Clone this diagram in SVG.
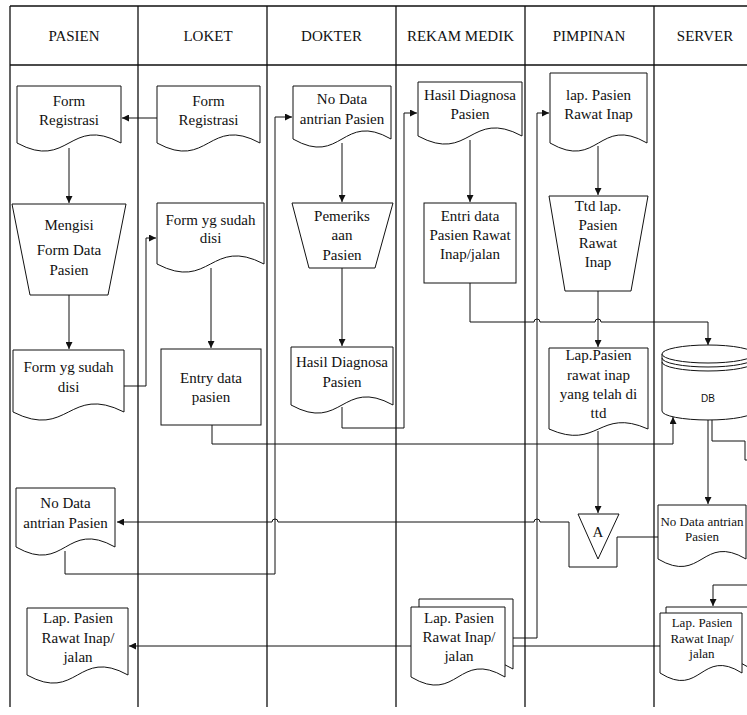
<svg xmlns="http://www.w3.org/2000/svg" width="747" height="715" viewBox="0 0 747 715">
  <style>
    .lane { fill: none; stroke: #111; stroke-width: 1.3; }
    .shape { fill: #fff; stroke: #111; stroke-width: 1; }
    .conn { fill: none; stroke: #111; stroke-width: 1; }
    .arr { marker-end: url(#arrow); }
    text { font-family: "Liberation Serif", "Times New Roman", serif; font-size: 15px; fill: #111; text-anchor: middle; }
    .sm { font-size: 13px; }
    .sans { font-family: "Liberation Sans", Arial, sans-serif; font-size: 10px; }
  </style>
  <defs>
    <marker id="arrow" viewBox="0 0 10 10" refX="10" refY="5" markerWidth="8" markerHeight="7" markerUnits="userSpaceOnUse" orient="auto">
      <path d="M0,0 L10,5 L0,10 z" fill="#111"/>
    </marker>
  </defs>
  <rect width="747" height="715" fill="#fff"/>

  <!-- swimlane frame -->
  <g id="lanes">
    <path class="lane" d="M10,6 H747 M10,65 H747"/>
    <path class="lane" d="M10,6 V707 M138,6 V707 M267,6 V707 M396,6 V707 M525,6 V707 M654,6 V707"/>
    <text x="74" y="41">PASIEN</text>
    <text x="208" y="41">LOKET</text>
    <text x="331.5" y="41">DOKTER</text>
    <text x="460.5" y="41">REKAM MEDIK</text>
    <text x="589" y="41">PIMPINAN</text>
    <text x="705" y="41">SERVER</text>
  </g>

  <!-- connectors -->
  <g id="connectors">
    <path class="conn arr" d="M157,118 H122"/>
    <path class="conn arr" d="M69,148 V203"/>
    <path class="conn arr" d="M69,295 V349"/>
    <path class="conn arr" d="M121,386 H146 V238 H156"/>
    <path class="conn arr" d="M211,268 V348"/>
    <path class="conn arr" d="M212,425 V444 H673 V417"/>
    <path class="conn arr" d="M65,551 V574 H275 V117 H292"/>
    <path class="conn arr" d="M342,143 V202"/>
    <path class="conn arr" d="M342,268 V346"/>
    <path class="conn arr" d="M342,407 V428 H404 V113 H417"/>
    <path class="conn arr" d="M470,140 V202"/>
    <path class="conn arr" d="M470,283 V322 H534 A3,3 0 0 1 540,322 H595 A3,3 0 0 1 601,322 H708 V345"/>
    <path class="conn arr" d="M598,146 V195"/>
    <path class="conn arr" d="M598,291 V347"/>
    <path class="conn arr" d="M598,431 V513"/>
    <path class="conn arr" d="M708,420 V504"/>
    <path class="conn arr" d="M712,420 V441 H745 V460 H770 V585 H713 V606"/>
    <path class="conn arr" d="M658,537 H617 V567 H569 V522 H540 A3,3 0 0 0 534,522 H278 A3,3 0 0 0 272,522 H117"/>
    <path class="conn arr" d="M660,646 H506"/>
    <path class="conn arr" d="M411,646 H129"/>
    <path class="conn arr" d="M513,638 H537 V113 H549"/>
  </g>

  <!-- PASIEN -->
  <g id="pasien-form-registrasi">
    <path class="shape" d="M17,86 H121 V143 C69,115 69,171 17,143 Z"/>
    <text x="69" y="106">Form</text>
    <text x="69" y="125">Registrasi</text>
  </g>
  <g id="pasien-mengisi-form">
    <polygon class="shape" points="12,204 126,204 108,295 30,295"/>
    <text x="69" y="230">Mengisi</text>
    <text x="69" y="255">Form Data</text>
    <text x="69" y="275">Pasien</text>
  </g>
  <g id="pasien-form-terisi">
    <path class="shape" d="M13,350 H124 V412 C68.5,384 68.5,440 13,412 Z"/>
    <text x="68.5" y="372">Form yg sudah</text>
    <text x="68.5" y="392">disi</text>
  </g>
  <g id="pasien-no-antrian">
    <path class="shape" d="M16,488 H115 V547 C65.5,519 65.5,575 16,547 Z"/>
    <text x="65.5" y="508">No Data</text>
    <text x="65.5" y="528">antrian Pasien</text>
  </g>
  <g id="pasien-laporan">
    <path class="shape" d="M27,608 H128 V675 C77.5,647 77.5,703 27,675 Z"/>
    <text x="78" y="623">Lap. Pasien</text>
    <text x="78" y="643">Rawat Inap/</text>
    <text x="78" y="662">jalan</text>
  </g>

  <!-- LOKET -->
  <g id="loket-form-registrasi">
    <path class="shape" d="M157,86 H260 V143 C208.5,115 208.5,171 157,143 Z"/>
    <text x="208.5" y="106">Form</text>
    <text x="208.5" y="125">Registrasi</text>
  </g>
  <g id="loket-form-terisi">
    <path class="shape" d="M157,203 H264 V264 C210.5,236 210.5,292 157,264 Z"/>
    <text x="210.5" y="225">Form yg sudah</text>
    <text x="210.5" y="243">disi</text>
  </g>
  <g id="loket-entry-data">
    <rect class="shape" x="161" y="349" width="100" height="76"/>
    <text x="211" y="383">Entry data</text>
    <text x="211" y="402">pasien</text>
  </g>

  <!-- DOKTER -->
  <g id="dokter-no-antrian">
    <path class="shape" d="M293,86 H391 V139 C342,111 342,167 293,139 Z"/>
    <text x="342" y="104">No Data</text>
    <text x="342" y="124">antrian Pasien</text>
  </g>
  <g id="dokter-pemeriksaan">
    <polygon class="shape" points="292,203 393,203 375,268 309,268"/>
    <text x="342" y="221">Pemeriks</text>
    <text x="342" y="240">aan</text>
    <text x="342" y="260">Pasien</text>
  </g>
  <g id="dokter-hasil-diagnosa">
    <path class="shape" d="M291,347 H393 V405 C342,377 342,433 291,405 Z"/>
    <text x="342" y="367">Hasil Diagnosa</text>
    <text x="342" y="387">Pasien</text>
  </g>

  <!-- REKAM MEDIK -->
  <g id="rm-hasil-diagnosa">
    <path class="shape" d="M418,82 H522 V136 C470,108 470,164 418,136 Z"/>
    <text x="470" y="100">Hasil Diagnosa</text>
    <text x="470" y="119">Pasien</text>
  </g>
  <g id="rm-entri-data">
    <rect class="shape" x="424" y="203" width="92" height="80"/>
    <text x="470" y="221">Entri data</text>
    <text x="470" y="240">Pasien Rawat</text>
    <text x="470" y="259">Inap/jalan</text>
  </g>
  <g id="rm-laporan">
    <path class="shape" d="M419,599 H513 V669 C466,641 466,697 419,669 Z"/>
    <path class="shape" d="M411,607 H505 V677 C458,649 458,705 411,677 Z"/>
    <text x="459" y="623">Lap. Pasien</text>
    <text x="459" y="642">Rawat Inap/</text>
    <text x="459" y="661">jalan</text>
  </g>

  <!-- PIMPINAN -->
  <g id="pimpinan-laporan">
    <path class="shape" d="M550,73 H647 V143 C598.5,115 598.5,171 550,143 Z"/>
    <text x="598.5" y="100">lap. Pasien</text>
    <text x="598.5" y="119">Rawat Inap</text>
  </g>
  <g id="pimpinan-ttd">
    <polygon class="shape" points="549,196 648,196 631,291 565,291"/>
    <text x="598" y="211">Ttd lap.</text>
    <text x="598" y="230">Pasien</text>
    <text x="598" y="248">Rawat</text>
    <text x="598" y="267">Inap</text>
  </g>
  <g id="pimpinan-laporan-ttd">
    <path class="shape" d="M549,348 H648 V429 C598.5,407 598.5,451 549,429 Z"/>
    <text x="598.5" y="360">Lap.Pasien</text>
    <text x="598.5" y="380">rawat inap</text>
    <text x="598.5" y="399">yang telah di</text>
    <text x="598.5" y="418">ttd</text>
  </g>
  <g id="pimpinan-connector-a">
    <polygon class="shape" points="578,514 619,514 598,559"/>
    <text x="598" y="537">A</text>
  </g>

  <!-- SERVER -->
  <g id="server-db">
    <path class="shape" d="M662,354 V411 A46,9 0 0 0 754,411 V354"/>
    <ellipse class="shape" cx="708" cy="354" rx="46" ry="9"/>
    <path class="conn" d="M662,358 A46,9 0 0 0 754,358 M662,362 A46,9 0 0 0 754,362"/>
    <text class="sans" x="708" y="402">DB</text>
  </g>
  <g id="server-no-antrian">
    <path class="shape" d="M658,505 H746 V559 C702,533 702,585 658,559 Z"/>
    <text class="sm" x="702" y="526">No Data antrian</text>
    <text class="sm" x="702" y="541">Pasien</text>
  </g>
  <g id="server-laporan">
    <path class="shape" d="M666,607 H748 V667 C707,641 707,693 666,667 Z"/>
    <path class="shape" d="M660,613 H742 V673 C701,647 701,699 660,673 Z"/>
    <text class="sm" x="702" y="627">Lap. Pasien</text>
    <text class="sm" x="702" y="643">Rawat Inap/</text>
    <text class="sm" x="702" y="658">jalan</text>
  </g>
</svg>
